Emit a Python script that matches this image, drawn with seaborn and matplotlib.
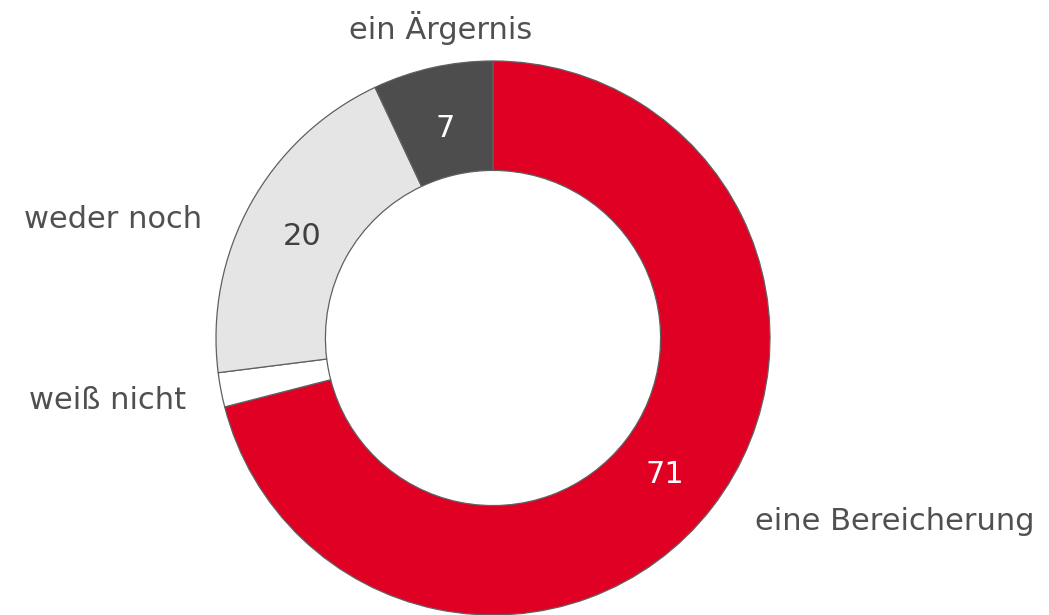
import matplotlib
matplotlib.use("Agg")
import matplotlib.pyplot as plt
import seaborn as sns
import numpy as np

sns.set_theme(style="white")
plt.rcParams['font.family'] = ['DejaVu Sans']

categories = ["eine Bereicherung", "weiß nicht", "weder noch", "ein Ärgernis"]
values = [71, 2, 20, 7]
value_labels = ["71", "", "20", "7"]
colors = ["#E00024", "#FFFFFF", "#E5E5E5", "#4D4D4D"]
value_colors = ["white", "#404040", "#404040", "white"]

W, H = 1049, 615
cx, cy, R = 493, 338, 277

fig = plt.figure(figsize=(W / 100, H / 100), dpi=100)
ax = fig.add_axes([0, 0, 1, 1])

wedges, _ = ax.pie(values, colors=colors, startangle=90, counterclock=False,
                   radius=1.0,
                   wedgeprops=dict(width=0.395, edgecolor="#606060", linewidth=0.9))
ax.set_aspect("auto")
ax.set_xlim(-cx / R, (W - cx) / R)
ax.set_ylim(-(H - cy) / R, cy / R)
ax.axis("off")

FS = 22
# value labels inside the ring
for w, lab, col in zip(wedges, value_labels, value_colors):
    if not lab:
        continue
    ang = np.deg2rad((w.theta1 + w.theta2) / 2)
    ax.text(0.785 * np.cos(ang), 0.785 * np.sin(ang), lab, ha="center",
            va="center_baseline", fontsize=FS, color=col)

txt_col = "#505050"
label_pos = {
    "eine Bereicherung": (0.945, -0.661, "left"),
    "weiß nicht": (-1.108, -0.224, "right"),
    "weder noch": (-1.051, 0.426, "right"),
    "ein Ärgernis": (-0.188, 1.119, "center"),
}
for cat in categories:
    x, y, ha = label_pos[cat]
    ax.text(x, y, cat, ha=ha, va="center", fontsize=FS, color=txt_col)

fig.savefig("out.png", dpi=100)
